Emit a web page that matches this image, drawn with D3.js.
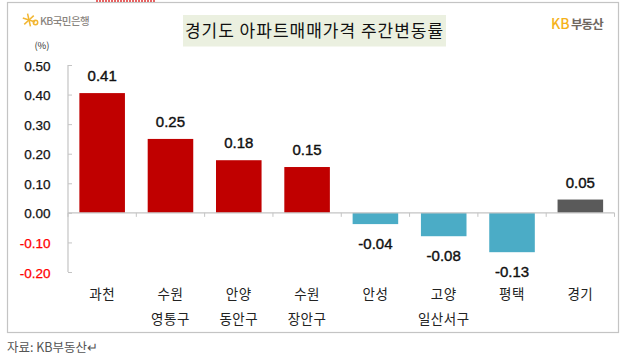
<!DOCTYPE html>
<html><head><meta charset="utf-8">
<script src="https://cdn.jsdelivr.net/npm/d3@7/dist/d3.min.js"></script>
<style>html,body{margin:0;padding:0;background:#fff}svg{display:block}
text{font-family:"Noto Sans CJK KR","Noto Sans",sans-serif}</style></head>
<body><svg id="c" width="620" height="359"></svg>
<script>
const categories=["과천","수원|영통구","안양|동안구","수원|장안구","안성","고양|일산서구","평택","경기"];
const values=[0.405,0.25,0.178,0.155,-0.038,-0.079,-0.133,0.045];
const valueLabels=["0.41","0.25","0.18","0.15","-0.04","-0.08","-0.13","0.05"];
const tickValues=[0.5,0.4,0.3,0.2,0.1,0,-0.1,-0.2];
const titleText="경기도 아파트매매가격 주간변동률";
const sourceText="자료: KB부동산↵";

const svg=d3.select("#c");
const y=d3.scaleLinear().domain([-0.2,0.5]).range([272,65]);
const x=d3.scaleBand().domain(categories).range([68,614.5]).paddingInner(0.333).paddingOuter(0.1665);
const barColor=v=>v<0?"#4bacc6":"#c00000";

svg.append("rect").attr("x",7.5).attr("y",2.5).attr("width",611).attr("height",330)
  .attr("fill","#fff").attr("stroke","#c4c4c4").attr("stroke-width",1.2);
svg.append("line").attr("x1",96).attr("x2",155).attr("y1",1).attr("y2",1)
  .attr("stroke","#e03030").attr("stroke-width",1.5).attr("stroke-dasharray","2 1");

svg.append("rect").attr("x",183).attr("y",15).attr("width",263).attr("height",31.5).attr("fill","#ebf0e0");
svg.append("text").attr("x",314.5).attr("y",37).attr("text-anchor","middle")
  .attr("font-size",17).attr("letter-spacing",1).attr("fill","#111").text(titleText);

// KB logo, left
const star=svg.append("g").attr("stroke","#f2b632").attr("stroke-width",1.5).attr("fill","none");
d3.range(6).forEach(i=>{const a=i*Math.PI/3+0.3;
  star.append("line").attr("x1",29).attr("y1",20).attr("x2",29+6.5*Math.cos(a)).attr("y2",20+6.5*Math.sin(a));});
star.append("circle").attr("cx",35.5).attr("cy",22.5).attr("r",2.2);
svg.append("text").attr("x",40).attr("y",25).attr("font-size",10.5).attr("fill","#8a8580").attr("font-weight",500)
  .attr("letter-spacing",-0.6).text("KB국민은행");
// KB logo, right
svg.append("text").attr("x",551).attr("y",29).attr("font-size",14).attr("fill","#f5b21a").attr("font-weight",500).text("KB");
svg.append("text").attr("x",571).attr("y",28.5).attr("font-size",12.5).attr("fill","#6f675f").attr("font-weight",700)
  .attr("letter-spacing",-0.9).text("부동산");

svg.append("text").attr("x",42).attr("y",49).attr("text-anchor","middle").attr("font-size",9.5).attr("fill","#333").text("(%)");

// y axis
const yAxis=d3.axisLeft(y).tickValues(tickValues).tickSize(-4).tickPadding(0).tickFormat(()=>"");
const gy=svg.append("g").attr("transform","translate(68,0)").call(yAxis);
gy.selectAll("line").attr("stroke","#c4c4c4");
gy.select(".domain").remove();
svg.append("line").attr("x1",68).attr("x2",68).attr("y1",y(0.5)).attr("y2",y(-0.2)).attr("stroke","#c4c4c4").attr("stroke-width",1.2);

svg.selectAll(".yl").data(tickValues).join("text").attr("class","yl")
  .attr("x",50.5).attr("y",d=>y(d)+5.5).attr("text-anchor","end")
  .style("font-family","'Liberation Sans',sans-serif")
  .attr("font-size",13.5).attr("font-weight",500)
  .attr("fill",d=>d<0?"#f00":"#111").attr("stroke",d=>d<0?"#f00":"#111").attr("stroke-width",0.25)
  .text(d=>d.toFixed(2));

// bars
svg.selectAll(".bar").data(values).join("rect").attr("class","bar")
  .attr("x",(d,i)=>x(categories[i])).attr("width",x.bandwidth())
  .attr("y",d=>Math.min(y(d),y(0))).attr("height",d=>Math.abs(y(d)-y(0)))
  .attr("fill",(d,i)=>i===values.length-1?"#5a5a5a":barColor(d));

// x axis
svg.append("line").attr("x1",68).attr("x2",614.5).attr("y1",y(0)).attr("y2",y(0)).attr("stroke","#c4c4c4").attr("stroke-width",1.3);
const edges=d3.range(categories.length+1).map(i=>68+i*x.step());
svg.selectAll(".xt").data(edges).join("line").attr("class","xt")
  .attr("x1",d=>d).attr("x2",d=>d).attr("y1",y(0)).attr("y2",y(0)+4).attr("stroke","#c4c4c4");

// value labels
svg.selectAll(".vl").data(values).join("text").attr("class","vl")
  .attr("x",(d,i)=>x(categories[i])+x.bandwidth()/2)
  .attr("y",d=>d<0?y(d)+24.5:y(d)-12)
  .attr("text-anchor","middle").style("font-family","'Liberation Sans',sans-serif")
  .attr("font-size",15).attr("font-weight",500).attr("stroke","#111").attr("stroke-width",0.4).attr("fill","#111")
  .text((d,i)=>valueLabels[i]);

// category labels
categories.forEach(c=>{
  c.split("|").forEach((t,j)=>{
    svg.append("text").attr("x",x(c)+x.bandwidth()/2).attr("y",299+j*24.5)
      .attr("text-anchor","middle").attr("font-size",13.5).attr("letter-spacing",0.5).attr("fill","#222").text(t);
  });
});

svg.append("text").attr("x",7).attr("y",352).attr("font-size",12.5).attr("fill","#555").text(sourceText);
</script></body></html>
